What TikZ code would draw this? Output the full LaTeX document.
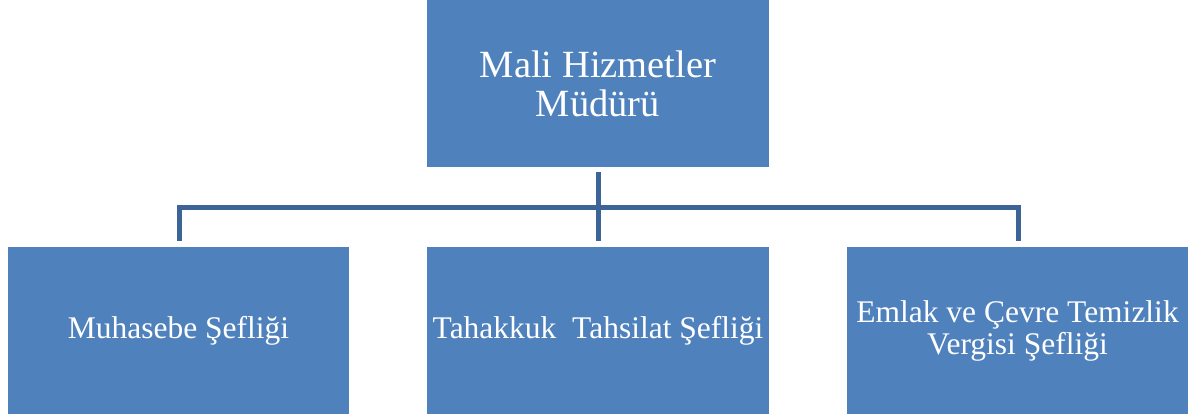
\documentclass[tikz,border=0pt]{standalone}
\usepackage{fontspec}
\setmainfont{Liberation Serif}
\definecolor{boxblue}{RGB}{79,129,189}
\definecolor{lineblue}{RGB}{61,100,150}
\begin{document}
\begin{tikzpicture}[x=1pt,y=-1pt,
  orgbox/.style={rectangle, fill=boxblue, draw=none, text=white, align=center, minimum height=167pt, inner sep=2pt},
  topfont/.style={font=\fontsize{38.5}{39}\selectfont},
  subfont/.style={font=\fontsize{31.5}{32}\selectfont},
  conn/.style={draw=lineblue, line width=5pt, line join=miter, line cap=butt}]
\useasboundingbox (0,0) rectangle (1195,419);
\node[orgbox, topfont, minimum width=342pt] (top) at (598,83.5) {Mali Hizmetler\\Müdürü};
\node[orgbox, subfont, minimum width=341pt] (left) at (178.5,330.5) {Muhasebe Şefliği};
\node[orgbox, subfont, minimum width=342pt] (mid) at (598,330.5) {Tahakkuk\ \ Tahsilat Şefliği};
\node[orgbox, subfont, minimum width=341pt] (right) at (1017.5,330.5) {Emlak ve Çevre Temizlik\\Vergisi Şefliği};
\coordinate (bus) at (598,207.5);
\draw[conn, shorten <=5pt] (top.south) -- (bus);
\draw[conn, shorten >=6pt] (bus) -- (mid.north);
\draw[conn, shorten <=6pt, shorten >=6pt] ([xshift=0.5pt]left.north) |- (bus) -| ([xshift=0.5pt]right.north);
\end{tikzpicture}
\end{document}
